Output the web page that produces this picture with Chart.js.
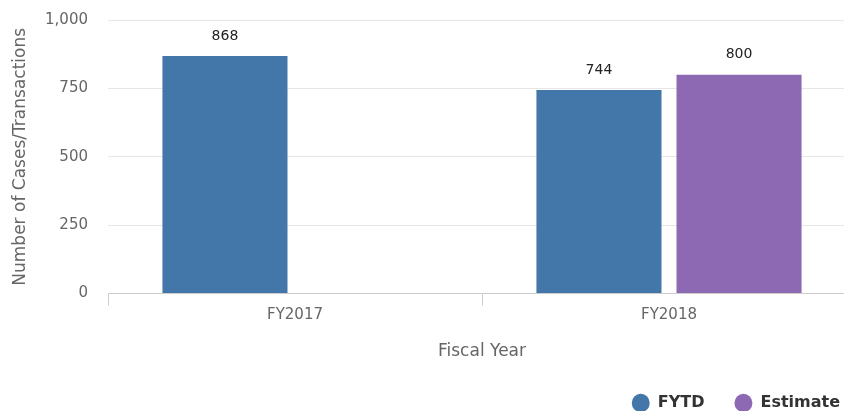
<!DOCTYPE html>
<html>
<head>
<meta charset="utf-8">
<script src="https://cdn.jsdelivr.net/npm/chart.js@4"></script>
<style>
  html, body { margin: 0; padding: 0; background: #fff; overflow: hidden; }
  #moldura { width: 844px; height: 411px; overflow: hidden; position: relative; }
  #grafico { position: absolute; left: 0; top: 0; }
</style>
</head>
<body>
<div id="moldura"><canvas id="grafico" width="870" height="421"></canvas></div>
<script>
// Dados do gráfico
const categorias = ['FY2017', 'FY2018'];
const valoresFYTD = [868, 744];
const valoresEstimativa = [null, 800];
const ticksY = [0, 250, 500, 750, 1000];

// Cores das barras
const cores = ['#4377a9', '#8d69b4'];

Chart.defaults.font.family = '"DejaVu Sans", sans-serif';

// Plugin simples para escrever o valor acima de cada barra
const rotulosBarras = {
  id: 'rotulosBarras',
  afterDatasetsDraw(chart) {
    const { ctx } = chart;
    ctx.save();
    ctx.font = '14px "DejaVu Sans", sans-serif';
    ctx.fillStyle = '#222';
    ctx.textAlign = 'center';
    ctx.textBaseline = 'middle';
    chart.data.datasets.forEach((conjunto, i) => {
      chart.getDatasetMeta(i).data.forEach((barra, j) => {
        const valor = conjunto.data[j];
        if (valor === null) return;
        ctx.fillText(valor, barra.x, barra.y - 20);
      });
    });
    ctx.restore();
  }
};

const ctx = document.getElementById('grafico').getContext('2d');

const grafico = new Chart(ctx, {
  type: 'bar',
  data: {
    labels: categorias,
    datasets: [
      { label: 'FYTD', data: valoresFYTD, backgroundColor: cores[0], borderWidth: 0, xAxisID: 'x', yAxisID: 'y' },
      { label: 'Estimate', data: valoresEstimativa, backgroundColor: cores[1], borderWidth: 0, xAxisID: 'x', yAxisID: 'y' }
    ]
  },
  options: {
    responsive: false,
    animation: false,
    barPercentage: 0.893,
    categoryPercentage: 0.749,
    layout: { padding: { top: 20, left: 0, right: 0, bottom: 0 } },
    scales: {
      x: {
        offset: true,
        grid: { display: true, drawOnChartArea: false, drawTicks: true, tickLength: 12, color: '#cccccc', offset: true },
        border: { display: true, color: '#cccccc' },
        ticks: { color: '#666', font: { size: 15 }, padding: 1 },
        title: { display: true, text: 'Fiscal Year', color: '#666', font: { size: 17 }, padding: { top: 16, bottom: 3 } }
      },
      y: {
        min: ticksY[0],
        max: ticksY[ticksY.length - 1],
        ticks: { stepSize: ticksY[1] - ticksY[0], color: '#666', font: { size: 15 }, padding: 20 },
        grid: { color: '#e6e6e6', drawTicks: false },
        border: { display: false },
        title: { display: true, text: 'Number of Cases/Transactions', color: '#666', font: { size: 17 }, padding: { top: 10, bottom: 0 } },
        afterFit: escala => {
          escala.width = 108;
          escala.paddingTop = 0;
          escala.paddingBottom = 0;
        }
      },
      // Eixo vazio à direita só para reservar espaço
      direita: {
        type: 'linear',
        position: 'right',
        display: true,
        ticks: { display: false },
        grid: { display: false },
        border: { display: false },
        afterFit: escala => { escala.width = 14; }
      }
    },
    plugins: {
      tooltip: { enabled: false },
      legend: {
        display: true,
        position: 'bottom',
        align: 'end',
        labels: {
          usePointStyle: true,
          pointStyle: 'circle',
          pointStyleWidth: 18,
          boxHeight: 13,
          padding: 30,
          color: '#333',
          font: { size: 16, weight: 'bold' }
        }
      }
    }
  },
  plugins: [rotulosBarras]
});
</script>
</body>
</html>
